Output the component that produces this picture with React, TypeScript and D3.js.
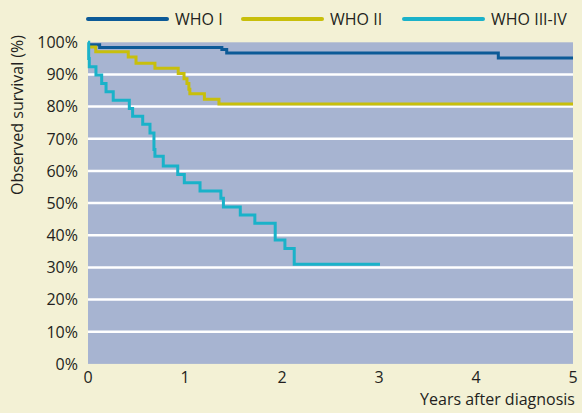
import React from "react";
import * as d3 from "d3";

const W = 582;
const H = 413;

const xTicks = [0, 1, 2, 3, 4, 5];
const yTicks = [0, 10, 20, 30, 40, 50, 60, 70, 80, 90, 100];
const gridValues = [10, 20, 30, 40, 50, 60, 70, 80, 90];

const seriesNames = ["WHO I", "WHO II", "WHO III-IV"];
const seriesColors = ["#0c5a97", "#c8bf0b", "#1ab2c9"];

const who1Times = [0, 0.12, 1.38, 1.43, 4.23, 5];
const who1Values = [99.2, 98.4, 97.8, 96.7, 95.1, 95.1];

const who2Times = [0, 0.08, 0.415, 0.495, 0.69, 0.93, 0.99, 1.02, 1.04, 1.05, 1.2, 1.35, 5];
const who2Values = [98.5, 97.1, 95.4, 93.5, 91.9, 90.3, 88.7, 87.2, 85.4, 84.0, 82.3, 80.8, 80.8];

const who3Times = [
  0, 0.007, 0.013, 0.082, 0.141, 0.186, 0.26, 0.426, 0.46, 0.564, 0.639, 0.68, 0.69,
  0.776, 0.925, 0.993, 1.155, 1.37, 1.396, 1.57, 1.72, 1.93, 2.03, 2.126, 3.01,
];
const who3Values = [
  100, 95.0, 92.4, 89.8, 87.2, 84.6, 82.0, 79.4, 77.0, 74.5, 71.8, 66.7, 64.6,
  61.5, 58.9, 56.3, 53.8, 51.5, 48.8, 46.3, 43.7, 38.5, 35.9, 31.0, 31.0,
];

const seriesTimes = [who1Times, who2Times, who3Times];
const seriesValues = [who1Values, who2Values, who3Values];

const FONT = "'Open Sans', sans-serif";
const TEXT = "#231f20";

export default function App() {
  const x = d3.scaleLinear().domain([0, 5]).range([88, 573]);
  const y = d3.scaleLinear().domain([0, 100]).range([363.9, 42.3]);

  const line = d3
    .line<[number, number]>()
    .x((d) => x(d[0]))
    .y((d) => y(d[1]))
    .curve(d3.curveStepAfter);

  const legendX = [88, 243, 404];

  return (
    <svg
      width={W}
      height={H}
      style={{ position: "fixed", left: 0, top: 0, display: "block" }}
      fontFamily={FONT}
    >
      <rect x={0} y={0} width={W} height={H} fill="#f3f1d5" />
      <rect
        x={x(0)}
        y={y(100)}
        width={x(5) - x(0)}
        height={y(0) - y(100)}
        fill="#a7b4d1"
      />
      {gridValues.map((v) => (
        <line
          key={v}
          x1={x(0)}
          x2={x(5)}
          y1={y(v)}
          y2={y(v)}
          stroke="#ffffff"
          strokeWidth={2.5}
        />
      ))}
      {seriesNames.map((name, i) => {
        const pts = seriesTimes[i].map((t, j) => [t, seriesValues[i][j]] as [number, number]);
        return (
          <path
            key={name}
            d={line(pts) || ""}
            fill="none"
            stroke={seriesColors[i]}
            strokeWidth={3}
          />
        );
      })}
      {yTicks.map((v) => (
        <text
          key={v}
          x={78}
          y={y(v)}
          dy="0.36em"
          textAnchor="end"
          fontSize={16}
          fill={TEXT}
        >
          {v}%
        </text>
      ))}
      {xTicks.map((t) => (
        <text key={t} x={x(t)} y={383} textAnchor="middle" fontSize={16} fill={TEXT}>
          {t}
        </text>
      ))}
      <text x={575} y={405} textAnchor="end" fontSize={16} fill={TEXT}>
        Years after diagnosis
      </text>
      <text
        transform={`translate(23,115) rotate(-90)`}
        textAnchor="middle"
        fontSize={16}
        fill={TEXT}
      >
        Observed survival (%)
      </text>
      {seriesNames.map((name, i) => (
        <g key={name}>
          <line
            x1={legendX[i]}
            x2={legendX[i] + 79}
            y1={19}
            y2={19}
            stroke={seriesColors[i]}
            strokeWidth={4}
            strokeLinecap="round"
          />
          <text x={legendX[i] + 87} y={25} fontSize={16} fill={TEXT}>
            {name}
          </text>
        </g>
      ))}
    </svg>
  );
}
